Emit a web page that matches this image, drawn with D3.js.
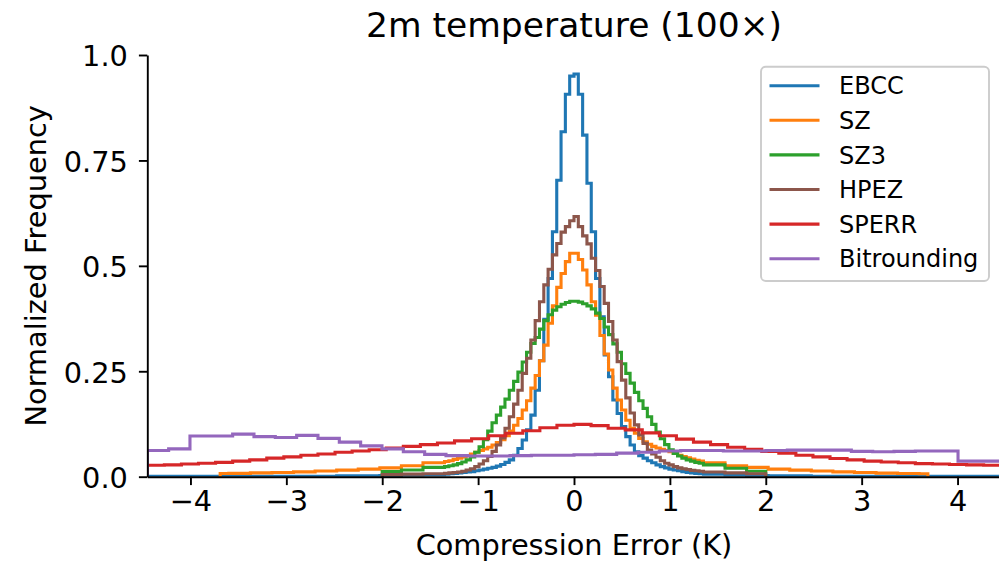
<!DOCTYPE html>
<html><head><meta charset="utf-8">
<script src="https://cdn.jsdelivr.net/npm/d3@7"></script>
<style>
body{margin:0;background:#fff}
svg{display:block}
text{font-family:"DejaVu Sans",sans-serif;fill:#000}
</style>
</head><body>
<svg id="chart" width="999" height="568"></svg>
<script>
// ---------------- DATA ----------------
const seriesNames = ["EBCC", "SZ", "SZ3", "HPEZ", "SPERR", "Bitrounding"];
const seriesColors = ["#1f77b4", "#ff7f0e", "#2ca02c", "#8c564b", "#d62728", "#9467bd"];
const xTicks = [-4, -3, -2, -1, 0, 1, 2, 3, 4];
const yTicks = [0, 0.25, 0.5, 0.75, 1.0];
const yTickLabels = ["0.0", "0.25", "0.5", "0.75", "1.0"];
const xDomain = [-4.45, 4.45];

// Fine histogram bins (width 0.045) covering [-1.35, 1.35]; coarse tail bins (width 0.225) outward
const coreStart = -1.35, fineWidth = 0.045, tailWidth = 0.225;

const ebccCore = [0.006,0.007,0.008,0.009,0.010,0.011,0.012,0.014,0.016,0.018,0.020,0.022,0.025,0.029,0.034,0.040,0.051,0.067,0.087,0.111,0.146,0.205,0.275,0.373,0.470,0.581,0.703,0.818,0.907,0.950,
                  0.955,0.907,0.810,0.696,0.581,0.470,0.379,0.289,0.237,0.182,0.150,0.119,0.095,0.075,0.059,0.050,0.044,0.038,0.033,0.028,0.024,0.021,0.018,0.016,0.014,0.012,0.010,0.009,0.008,0.007];
const ebccTailL = [0.005,0.004,0.003,0.002,0.002,0.001,0.001,0.001,0.001,0.001,0.001,0.001,0.001,0.001];
const ebccTailR = [0.006,0.004,0.003,0.002,0.002,0.001,0.001,0.001,0.001,0.001,0.001,0.001,0.001,0.001];
const ebccExtent = [-4.45, 4.45];

const szCore = [0.036,0.038,0.041,0.044,0.047,0.050,0.054,0.058,0.062,0.066,0.070,0.075,0.081,0.088,0.097,0.108,0.122,0.138,0.158,0.180,0.210,0.240,0.275,0.312,0.364,0.405,0.449,0.482,0.510,0.530,
                0.530,0.515,0.490,0.455,0.415,0.383,0.335,0.291,0.253,0.210,0.182,0.158,0.134,0.115,0.103,0.091,0.083,0.077,0.072,0.068,0.065,0.062,0.059,0.055,0.051,0.048,0.045,0.042,0.039,0.037];
const szTailL = [0.033,0.026,0.021,0.018,0.0155,0.0135,0.0115,0.010,0.009,0.008,0.0075];
const szTailR = [0.033,0.026,0.022,0.018,0.0155,0.0135,0.0115,0.0098,0.0085,0.0075,0.007];
const szExtent = [-3.69, 3.69];

const sz3Core = [0.024,0.026,0.028,0.031,0.035,0.040,0.047,0.058,0.071,0.088,0.108,0.128,0.146,0.165,0.184,0.205,0.226,0.248,0.272,0.295,0.316,0.330,0.350,0.370,0.384,0.395,0.403,0.409,0.413,0.416,
                 0.416,0.414,0.410,0.405,0.398,0.388,0.375,0.355,0.337,0.315,0.295,0.268,0.245,0.222,0.200,0.180,0.162,0.142,0.124,0.106,0.090,0.076,0.064,0.055,0.049,0.044,0.040,0.037,0.034,0.032];
const sz3TailL = [0.022,0.016,0.012];
const sz3TailR = [0.028,0.020,0.013];
const sz3Extent = [-2.0, 2.0];

const hpezCore = [0.008,0.009,0.010,0.011,0.013,0.016,0.019,0.024,0.030,0.038,0.048,0.060,0.075,0.092,0.115,0.142,0.172,0.205,0.245,0.281,0.324,0.370,0.415,0.455,0.492,0.526,0.553,0.580,0.593,0.607,
                  0.617,0.593,0.571,0.552,0.518,0.489,0.451,0.411,0.368,0.324,0.273,0.229,0.187,0.151,0.123,0.099,0.079,0.063,0.054,0.046,0.038,0.032,0.028,0.024,0.021,0.019,0.017,0.015,0.014,0.013];
const hpezTailL = [0.007,0.006,0.005];
const hpezTailR = [0.011,0.009,0.007];
const hpezExtent = [-2.0, 2.0];

// SPERR: 50 bins of width 0.178 over [-4.45, 4.45]
const sperrWidth = 0.178;
const sperrValues = [0.027,0.028,0.030,0.032,0.034,0.037,0.040,0.044,0.047,0.051,0.054,0.058,0.061,0.064,0.068,0.072,0.076,0.080,0.085,0.090,0.097,0.103,0.109,0.116,0.122,
                     0.124,0.121,0.115,0.111,0.104,0.097,0.089,0.082,0.076,0.070,0.065,0.060,0.056,0.051,0.047,0.043,0.040,0.037,0.035,0.033,0.031,0.030,0.029,0.028,0.027];

// Bitrounding: 40 bins of width 0.2225 over [-4.45, 4.45]
const bitWidth = 0.2225;
const bitValues = [0.062,0.066,0.0965,0.0965,0.101,0.095,0.093,0.098,0.091,0.082,0.073,0.066,0.059,0.053,0.050,0.049,0.049,0.050,0.051,0.051,
                   0.052,0.053,0.056,0.058,0.061,0.062,0.062,0.061,0.061,0.062,0.063,0.063,0.063,0.060,0.059,0.060,0.061,0.061,0.037,0.037];

// ---------------- BUILD BINS ----------------
function hybridBins(core, tailL, tailR, ext) {
  const bins = [];
  for (let i = tailL.length - 1; i >= 0; i--) {
    const x1 = coreStart - i * tailWidth;
    const x0 = Math.max(coreStart - (i + 1) * tailWidth, ext[0]);
    bins.push({x0, x1, v: tailL[i]});
  }
  core.forEach((v, i) => bins.push({x0: coreStart + i * fineWidth, x1: coreStart + (i + 1) * fineWidth, v}));
  const coreEnd = coreStart + core.length * fineWidth;
  tailR.forEach((v, i) => {
    const x0 = coreEnd + i * tailWidth;
    bins.push({x0, x1: Math.min(x0 + tailWidth, ext[1]), v});
  });
  return bins;
}
function uniformBins(vals, w, start) {
  return vals.map((v, i) => ({x0: start + i * w, x1: start + (i + 1) * w, v}));
}
const allBins = [
  hybridBins(ebccCore, ebccTailL, ebccTailR, ebccExtent),
  hybridBins(szCore, szTailL, szTailR, szExtent),
  hybridBins(sz3Core, sz3TailL, sz3TailR, sz3Extent),
  hybridBins(hpezCore, hpezTailL, hpezTailR, hpezExtent),
  uniformBins(sperrValues, sperrWidth, xDomain[0]),
  uniformBins(bitValues, bitWidth, xDomain[0])
];

// ---------------- DRAW ----------------
const svg = d3.select("#chart");
const pL = 147.3, pR = 1000.7, pT = 55, pB = 476.7;
const x = d3.scaleLinear().domain(xDomain).range([pL, pR]);
const y = d3.scaleLinear().domain([0, 1]).range([pB, pT]);

svg.append("defs").append("clipPath").attr("id", "plotclip")
  .append("rect").attr("x", pL).attr("y", pT - 5).attr("width", pR - pL).attr("height", pB - pT + 5);

const line = d3.line().x(d => x(d[0])).y(d => y(d[1]));
const plot = svg.append("g").attr("clip-path", "url(#plotclip)");
allBins.forEach((bins, si) => {
  const pts = [[bins[0].x0, 0]];
  bins.forEach(b => { pts.push([b.x0, b.v]); pts.push([b.x1, b.v]); });
  pts.push([bins[bins.length - 1].x1, 0]);
  plot.append("path").attr("d", line(pts))
    .attr("fill", "none").attr("stroke", seriesColors[si])
    .attr("stroke-width", 3.1).attr("stroke-linejoin", "miter");
});

// Axes
const fmtX = d => d < 0 ? "\u2212" + Math.abs(d) : String(d);
const gx = svg.append("g").attr("transform", `translate(0,${pB})`)
  .call(d3.axisBottom(x).tickValues(xTicks).tickFormat(fmtX).tickSize(8.4).tickSizeOuter(0).tickPadding(5));
const gy = svg.append("g").attr("transform", `translate(${pL},0)`)
  .call(d3.axisLeft(y).tickValues(yTicks).tickFormat((d, i) => yTickLabels[i]).tickSize(8.4).tickSizeOuter(0).tickPadding(11));
[gx, gy].forEach(g => {
  g.selectAll("path.domain").attr("stroke", "#000").attr("stroke-width", 1.9);
  g.selectAll(".tick line").attr("stroke", "#000").attr("stroke-width", 1.9);
  g.selectAll(".tick text").attr("font-size", 28.8).attr("font-family", "DejaVu Sans").attr("fill", "#000");
});
gy.selectAll(".tick text").attr("dy", "0.38em");

// Labels
svg.append("text").attr("x", (pL + pR) / 2).attr("y", 555).attr("text-anchor", "middle")
  .attr("font-size", 28.8).text("Compression Error (K)");
svg.append("text").attr("transform", `translate(46,${(pT + pB) / 2}) rotate(-90)`).attr("text-anchor", "middle")
  .attr("font-size", 28.8).text("Normalized Frequency");
svg.append("text").attr("x", (pL + pR) / 2).attr("y", 37).attr("text-anchor", "middle")
  .attr("font-size", 34.5).text("2m temperature (100\u00d7)");

// Legend
const lg = svg.append("g");
lg.append("rect").attr("x", 761).attr("y", 66.7).attr("width", 228).attr("height", 214.3)
  .attr("rx", 4.8).attr("fill", "#fff").attr("fill-opacity", 0.8).attr("stroke", "#cccccc").attr("stroke-width", 1.9);
seriesNames.forEach((name, i) => {
  const cy = 85.7 + i * 34.6;
  lg.append("line").attr("x1", 769.5).attr("x2", 819.5).attr("y1", cy).attr("y2", cy)
    .attr("stroke", seriesColors[i]).attr("stroke-width", 3.1);
  lg.append("text").attr("x", 839).attr("y", cy).attr("dy", "0.36em").attr("font-size", 24).text(name);
});
</script>
</body></html>
